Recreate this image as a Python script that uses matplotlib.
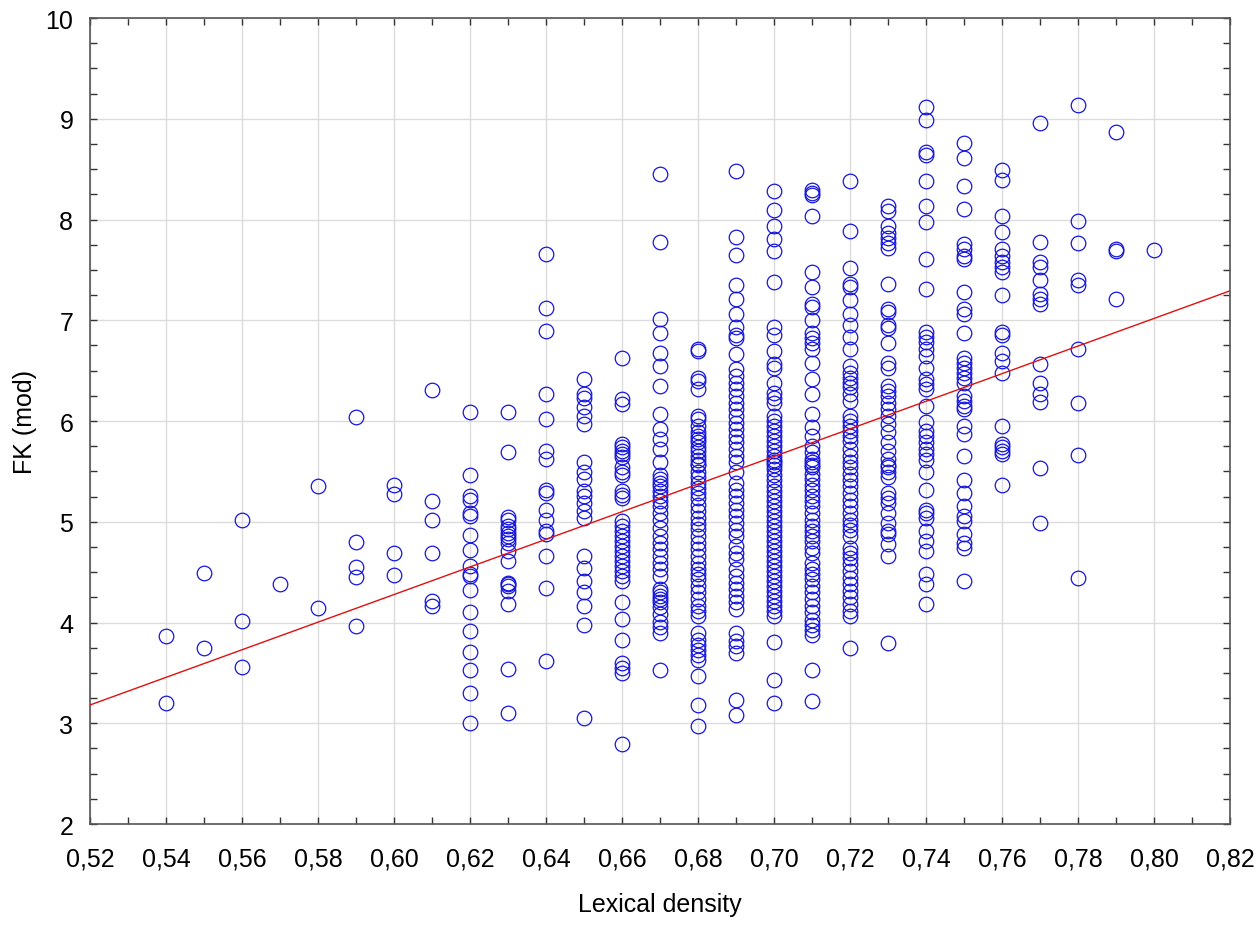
import numpy as np
from matplotlib import pyplot as plt
from matplotlib.ticker import MultipleLocator, FuncFormatter

# FK (mod) values, one list per lexical density column
fk_054 = [3.87, 3.20]
fk_055 = [4.49, 3.75]
fk_056 = [5.02, 4.02, 3.56]
fk_057 = [4.38]
fk_058 = [5.36, 4.14]
fk_059 = [6.04, 4.80, 4.55, 4.45, 3.97]
fk_060 = [5.37, 5.28, 4.69, 4.47]
fk_061 = [6.31, 5.21, 5.02, 4.69, 4.21, 4.16]
fk_062 = [6.09, 5.46, 5.26, 5.22, 5.09, 5.06, 4.87, 4.72, 4.56, 4.48, 4.46,
          4.32, 4.10, 3.92, 3.71, 3.53, 3.30, 3.00]
fk_063 = [6.09, 5.69, 5.05, 5.02, 4.96, 4.93, 4.89, 4.86, 4.83, 4.79, 4.71,
          4.61, 4.39, 4.38, 4.36, 4.31, 4.18, 3.54, 3.10]
fk_064 = [7.66, 7.12, 6.89, 6.27, 6.02, 5.70, 5.62, 5.32, 5.29, 5.12, 5.02,
          4.91, 4.88, 4.66, 4.34, 3.62]
fk_065 = [6.42, 6.27, 6.23, 6.14, 6.05, 5.97, 5.59, 5.49, 5.42, 5.31, 5.26,
          5.19, 5.11, 5.04, 4.66, 4.54, 4.41, 4.30, 4.16, 3.98, 3.05]
fk_066 = [6.63, 6.22, 6.17, 5.77, 5.74, 5.70, 5.67, 5.64, 5.54, 5.49, 5.46,
          5.31, 5.27, 5.24, 5.01, 4.96, 4.91, 4.86, 4.81, 4.76, 4.71, 4.66,
          4.61, 4.56, 4.51, 4.46, 4.41, 4.20, 4.04, 3.83, 3.60, 3.55, 3.50, 2.79]
fk_067 = [8.45, 7.78, 7.01, 6.87, 6.68, 6.55, 6.35, 6.07, 5.92, 5.82, 5.72,
          5.59, 5.46, 5.42, 5.39, 5.36, 5.31, 5.26, 5.21, 5.16, 5.09, 5.02,
          4.94, 4.86, 4.79, 4.73, 4.66, 4.59, 4.53, 4.46, 4.33, 4.30, 4.26,
          4.23, 4.20, 4.15, 4.08, 4.01, 3.96, 3.90, 3.53]
fk_068 = [6.72, 6.70, 6.43, 6.40, 6.32, 6.05, 6.02, 5.95, 5.89, 5.85, 5.82,
          5.79, 5.74, 5.70, 5.65, 5.61, 5.57, 5.56, 5.49, 5.44, 5.39, 5.34,
          5.29, 5.24, 5.17, 5.11, 5.04, 4.98, 4.93, 4.86, 4.79, 4.73, 4.66,
          4.59, 4.53, 4.48, 4.43, 4.36, 4.30, 4.23, 4.16, 4.11, 4.06, 3.90,
          3.83, 3.78, 3.73, 3.68, 3.63, 3.47, 3.18, 2.97]
fk_069 = [8.48, 7.83, 7.65, 7.35, 7.21, 7.06, 6.93, 6.85, 6.82, 6.67, 6.52,
          6.45, 6.38, 6.32, 6.25, 6.18, 6.12, 6.05, 5.98, 5.92, 5.85, 5.79,
          5.72, 5.65, 5.59, 5.49, 5.39, 5.32, 5.26, 5.19, 5.12, 5.06, 4.99,
          4.92, 4.86, 4.76, 4.69, 4.63, 4.53, 4.46, 4.39, 4.33, 4.26, 4.20,
          4.13, 3.90, 3.82, 3.77, 3.70, 3.23, 3.08]
fk_070 = [8.28, 8.09, 7.94, 7.81, 7.69, 7.38, 6.93, 6.85, 6.70, 6.57, 6.53,
          6.38, 6.28, 6.23, 6.18, 6.05, 6.00, 5.95, 5.90, 5.85, 5.80, 5.75,
          5.70, 5.65, 5.61, 5.56, 5.59, 5.52, 5.46, 5.41, 5.36, 5.31, 5.26,
          5.21, 5.16, 5.11, 5.06, 5.01, 4.96, 4.91, 4.86, 4.81, 4.76, 4.71,
          4.66, 4.61, 4.56, 4.51, 4.46, 4.41, 4.36, 4.31, 4.26, 4.21, 4.16,
          4.11, 4.06, 3.81, 3.43, 3.20]
fk_071 = [8.29, 8.26, 8.24, 8.04, 7.48, 7.33, 7.16, 7.13, 7.00, 6.87, 6.82,
          6.77, 6.72, 6.58, 6.42, 6.27, 6.07, 5.94, 5.85, 5.75, 5.69, 5.62,
          5.56, 5.59, 5.54, 5.47, 5.42, 5.37, 5.32, 5.26, 5.21, 5.16, 5.09,
          5.02, 4.96, 4.91, 4.86, 4.81, 4.74, 4.69, 4.59, 4.53, 4.48, 4.43,
          4.36, 4.30, 4.23, 4.16, 4.10, 4.03, 3.98, 3.93, 3.88, 3.53, 3.22]
fk_072 = [8.38, 7.89, 7.52, 7.36, 7.33, 7.20, 7.06, 6.95, 6.83, 6.72, 6.55,
          6.48, 6.43, 6.38, 6.34, 6.27, 6.20, 6.05, 6.00, 5.95, 5.90, 5.85,
          5.80, 5.72, 5.65, 5.59, 5.54, 5.47, 5.41, 5.36, 5.29, 5.22, 5.16,
          5.09, 5.02, 4.97, 4.92, 4.86, 4.74, 4.69, 4.64, 4.58, 4.51, 4.44,
          4.38, 4.31, 4.25, 4.18, 4.11, 4.06, 3.75]
fk_073 = [8.13, 8.08, 7.94, 7.87, 7.82, 7.77, 7.72, 7.36, 7.11, 7.08, 6.95,
          6.92, 6.77, 6.58, 6.53, 6.35, 6.30, 6.25, 6.18, 6.12, 6.05, 5.97,
          5.89, 5.79, 5.70, 5.62, 5.56, 5.54, 5.49, 5.44, 5.29, 5.24, 5.19,
          5.09, 4.99, 4.91, 4.88, 4.78, 4.66, 3.80]
fk_074 = [9.12, 8.99, 8.67, 8.64, 8.38, 8.13, 7.98, 7.61, 7.31, 6.88, 6.83,
          6.78, 6.72, 6.65, 6.53, 6.42, 6.37, 6.32, 6.15, 5.99, 5.90, 5.85,
          5.79, 5.72, 5.67, 5.61, 5.49, 5.32, 5.12, 5.09, 5.04, 4.91, 4.81,
          4.71, 4.48, 4.38, 4.18]
fk_075 = [8.76, 8.61, 8.33, 8.10, 7.76, 7.71, 7.64, 7.61, 7.28, 7.11, 7.06,
          6.87, 6.63, 6.58, 6.53, 6.48, 6.43, 6.38, 6.25, 6.20, 6.15, 6.12,
          5.95, 5.87, 5.65, 5.41, 5.29, 5.16, 5.06, 5.01, 4.88, 4.79, 4.74,
          4.41]
fk_076 = [8.49, 8.39, 8.04, 7.88, 7.71, 7.64, 7.58, 7.53, 7.48, 7.25, 6.88,
          6.85, 6.68, 6.60, 6.48, 5.95, 5.77, 5.74, 5.70, 5.67, 5.37]
fk_077 = [8.96, 7.78, 7.58, 7.53, 7.40, 7.26, 7.21, 7.16, 6.57, 6.38, 6.27,
          6.19, 5.53, 4.99]
fk_078 = [9.14, 7.99, 7.77, 7.40, 7.35, 6.72, 6.18, 5.66, 4.44]
fk_079 = [8.87, 7.71, 7.69, 7.21]
fk_080 = [7.70]

columns = [
    (0.54, fk_054), (0.55, fk_055), (0.56, fk_056), (0.57, fk_057),
    (0.58, fk_058), (0.59, fk_059), (0.60, fk_060), (0.61, fk_061),
    (0.62, fk_062), (0.63, fk_063), (0.64, fk_064), (0.65, fk_065),
    (0.66, fk_066), (0.67, fk_067), (0.68, fk_068), (0.69, fk_069),
    (0.70, fk_070), (0.71, fk_071), (0.72, fk_072), (0.73, fk_073),
    (0.74, fk_074), (0.75, fk_075), (0.76, fk_076), (0.77, fk_077),
    (0.78, fk_078), (0.79, fk_079), (0.80, fk_080),
]

density = np.concatenate([[d] * len(v) for d, v in columns])
fk = np.concatenate([v for d, v in columns])

FONT = ["Liberation Sans Narrow", "Liberation Sans", "DejaVu Sans"]
plt.rcParams.update({"font.family": FONT, "font.size": 18})

fig = plt.figure(figsize=(12.6, 9.29), dpi=100)
ax = fig.add_axes([0.0714, 0.1119, 0.9048, 0.8676])

ax.plot(density, fk, linestyle="none", marker="o", markersize=10.5,
        markerfacecolor="none", markeredgecolor="#1515dd",
        markeredgewidth=0.9, zorder=3)

# linear fit, drawn across the full x range
slope, intercept = np.polyfit(density, fk, 1)
xs = np.array([0.52, 0.82])
ax.plot(xs, intercept + slope * xs, color="#e01010", linewidth=1.0, zorder=4)

ax.set_xlim(0.52, 0.82)
ax.set_ylim(2, 10)
ax.xaxis.set_major_locator(MultipleLocator(0.02))
ax.xaxis.set_minor_locator(MultipleLocator(0.01))
ax.yaxis.set_major_locator(MultipleLocator(1))
ax.yaxis.set_minor_locator(MultipleLocator(0.25))
ax.xaxis.set_major_formatter(FuncFormatter(lambda v, p: f"{v:.2f}".replace(".", ",")))
ax.yaxis.set_major_formatter(FuncFormatter(lambda v, p: f"{v:.0f}"))

ax.tick_params(which="both", direction="in", top=True, right=True,
               length=5, width=1, color="#333333")
ax.tick_params(axis="x", which="major", pad=16)
ax.tick_params(axis="y", which="major", pad=12)
ax.grid(True, which="major", color="#dcdcdc", linewidth=1)
ax.set_axisbelow(True)
for s in ax.spines.values():
    s.set_color("#555555")
    s.set_linewidth(1.2)

ax.set_xlabel("Lexical density", labelpad=16)
ax.set_ylabel("FK (mod)", labelpad=6)

plt.savefig("out.png", dpi=100)
